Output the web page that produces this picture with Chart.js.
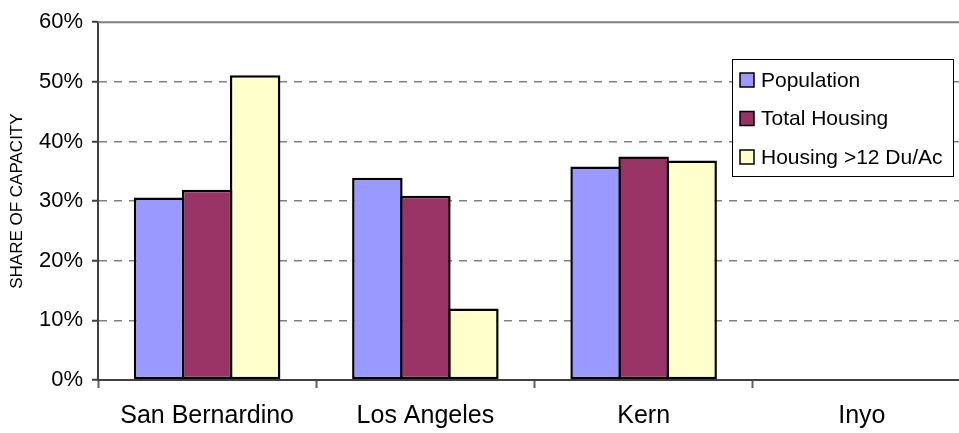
<!DOCTYPE html>
<html>
<head>
<meta charset="utf-8">
<script src="https://cdn.jsdelivr.net/npm/chart.js@4/dist/chart.umd.min.js"></script>
<style>
  html, body { margin: 0; padding: 0; background: #fff; overflow: hidden; }
  #wrap { position: relative; width: 971px; height: 433px; }
</style>
</head>
<body>
<div id="wrap"><canvas id="c" width="971" height="433"></canvas></div>
<script>
// Share of regional capacity by county (percent)
const counties = ['San Bernardino', 'Los Angeles', 'Kern', 'Inyo'];
const population = [30.6, 33.9, 35.8, null];
const totalHousing = [31.9, 30.9, 37.5, null];
const housingOver12 = [51.1, 12.0, 36.8, null];
const seriesNames = ['Population', 'Total Housing', 'Housing >12 Du/Ac'];
const seriesColors = ['#9999FF', '#993366', '#FFFFCC'];
const yTickValues = [0, 10, 20, 30, 40, 50, 60];

const FONT = "'Liberation Sans', Arial, sans-serif";

// Solid top edge of the plot area plus a boxed legend inside the plot
const framePlugin = {
  id: 'frame',
  afterDatasetsDraw(chart) {
    const { ctx, chartArea: a } = chart;
    ctx.save();
    ctx.strokeStyle = '#808080';
    ctx.lineWidth = 2;
    ctx.beginPath();
    ctx.moveTo(a.left, a.top);
    ctx.lineTo(a.right, a.top);
    ctx.stroke();
    ctx.restore();
  },
  afterDraw(chart) {
    const { ctx } = chart;
    const box = { x: 732.5, y: 59.5, w: 221, h: 117 };
    ctx.save();
    ctx.fillStyle = '#fff';
    ctx.fillRect(box.x, box.y, box.w, box.h);
    ctx.strokeStyle = '#000';
    ctx.lineWidth = 1;
    ctx.strokeRect(box.x, box.y, box.w, box.h);
    ctx.font = '21px ' + FONT;
    ctx.textBaseline = 'middle';
    ctx.textAlign = 'left';
    chart.data.datasets.forEach((ds, i) => {
      const cy = 80 + i * 38.5;
      ctx.fillStyle = ds.backgroundColor;
      ctx.fillRect(740, cy - 7, 14, 14);
      ctx.strokeStyle = '#000';
      ctx.lineWidth = 1.5;
      ctx.strokeRect(740, cy - 7, 14, 14);
      ctx.fillStyle = '#000';
      ctx.fillText(ds.label, 761, cy + 1);
    });
    ctx.restore();
  }
};

const seriesValues = [population, totalHousing, housingOver12];

new Chart(document.getElementById('c'), {
  type: 'bar',
  data: {
    labels: counties,
    datasets: seriesNames.map((name, i) => ({
      label: name,
      data: seriesValues[i],
      backgroundColor: seriesColors[i],
      borderColor: '#000',
      borderWidth: 2.5,
      borderSkipped: false,
      // neighbouring bars overlap by one border width so they share an edge
      categoryPercentage: 0.66,
      barPercentage: 1.052
    }))
  },
  options: {
    responsive: false,
    animation: false,
    devicePixelRatio: 1,
    layout: { padding: { top: 18, right: 0, left: 0, bottom: 0 } },
    plugins: {
      legend: { display: false },
      tooltip: { enabled: false }
    },
    scales: {
      x: {
        offset: true,
        afterFit(scale) { scale.height = 53; },
        grid: {
          display: true,
          offset: true,
          drawOnChartArea: false,
          drawTicks: true,
          tickLength: 8,
          tickColor: '#606060',
          tickWidth: 2
        },
        border: { display: true, color: '#404040', width: 2 },
        ticks: {
          color: '#000',
          font: { family: FONT, size: 25 },
          padding: 13,
          maxRotation: 0
        }
      },
      y: {
        min: 0,
        max: 60,
        afterFit(scale) { scale.width = 98; },
        afterBuildTicks(scale) { scale.ticks = yTickValues.map(v => ({ value: v })); },
        grid: {
          color: (c) => (c.tick && (c.tick.value === 0 || c.tick.value === 60)) ? 'rgba(0,0,0,0)' : '#808080',
          lineWidth: 1.5,
          drawTicks: true,
          tickLength: 6,
          tickColor: '#404040',
          tickWidth: 2
        },
        border: { display: true, color: '#404040', width: 2, dash: [8, 7] },
        ticks: {
          color: '#000',
          font: { family: FONT, size: 22 },
          padding: 9,
          callback: (v) => v + '%'
        },
        title: {
          display: true,
          text: 'SHARE OF CAPACITY',
          color: '#000',
          font: { family: FONT, size: 17 },
          padding: { top: 7, bottom: 0 }
        }
      }
    }
  },
  plugins: [framePlugin]
});
</script>
</body>
</html>
